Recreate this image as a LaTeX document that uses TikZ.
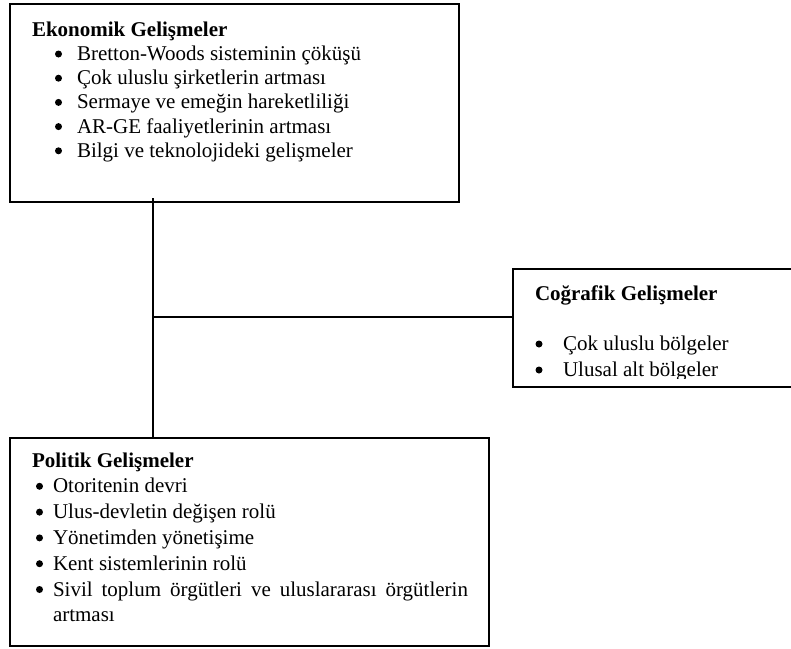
\documentclass[tikz,border=0pt]{standalone}
\usepackage{fontspec}
\setmainfont{Liberation Serif}
\begin{document}
\begin{tikzpicture}[x=1pt,y=-1pt,
  every node/.style={font=\fontsize{21}{24}\selectfont, inner sep=0pt, outer sep=0pt},
  box/.style={draw, fill=white, line width=1.8pt, anchor=north west},
  txt/.style={anchor=base west},
  hd/.style={anchor=base west, font=\fontsize{21}{24}\selectfont\bfseries},
  bul/.style={circle, fill=black, minimum size=7pt, anchor=center},
  conn/.style={line width=1.3pt}]
\useasboundingbox[fill=white] (0,0) rectangle (791,648);

% boxes
\node[box, minimum width=449pt, minimum height=198pt] (eko) at (10,4) {};
\node[box, minimum width=285pt, minimum height=118pt] (geo) at (513,269) {};
\node[box, minimum width=479pt, minimum height=208pt] (pol) at (10,438) {};

% connectors
\coordinate (j) at (153,317);
\draw[conn] ([yshift=4pt]eko.south west -| j) -- (pol.north west -| j);
\draw[conn] (j) -- (geo.west |- j);

% Ekonomik
\node[hd] (ekoh) at (32,36) {Ekonomik Gelişmeler};
\foreach \t/\y [count=\i] in {Bretton-Woods sisteminin çöküşü/60.5,
  Çok uluslu şirketlerin artması/84.7,
  Sermaye ve emeğin hareketliliği/108.9,
  AR-GE faaliyetlerinin artması/133.1,
  Bilgi ve teknolojideki gelişmeler/157.3}{
  \node[bul] (ekob\i) at (58.5,{\y-6.5}) {};
  \node[txt] (ekot\i) at (77,\y) {\t};
}

% Cografik
\begin{scope}
\clip (513,269) rectangle (791,378.5);
\node[hd] (geoh) at (535,300) {Coğrafik Gelişmeler};
\node[bul] (geob1) at (539,344) {};
\node[txt] (geot1) at (563,350.5) {Çok uluslu bölgeler};
\node[bul] (geob2) at (539,370) {};
\node[txt] (geot2) at (563,376.5) {Ulusal alt bölgeler};
\end{scope}

% Politik
\node[hd] (polh) at (32,467) {Politik Gelişmeler};
\foreach \t/\y [count=\i] in {Otoritenin devri/492.8,
  Ulus-devletin değişen rolü/518.6,
  Yönetimden yönetişime/544.4,
  Kent sistemlerinin rolü/570.2}{
  \node[bul] (polb\i) at (39.5,{\y-6.5}) {};
  \node[txt] (polt\i) at (53,\y) {\t};
}
\node[bul] (polb5) at (39.5,589.5) {};
\node[txt] (polt5) at (53,596) {\makebox[415pt][s]{Sivil toplum örgütleri ve uluslararası örgütlerin}};
\node[txt] (polt6) at (53,621.8) {artması};
\end{tikzpicture}
\end{document}
